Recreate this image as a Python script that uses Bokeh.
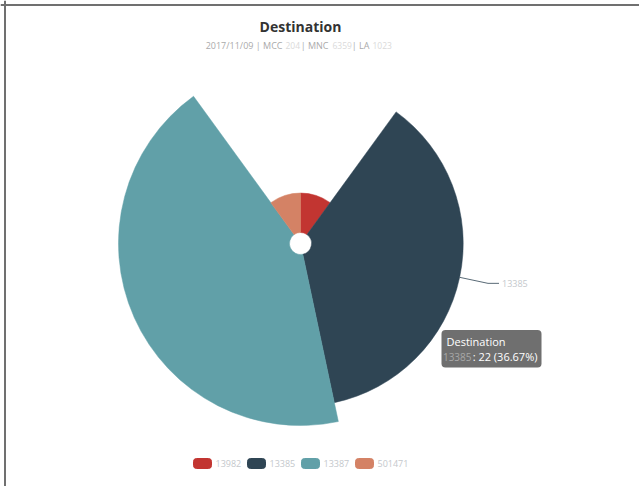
import math
from bokeh.plotting import figure
from bokeh.models import Range1d, Span, ColumnDataSource
from bokeh.core.properties import value
from bokeh.embed import file_html
from bokeh.resources import INLINE

# ---------------- data ----------------
title_text = "Destination"
subtitle_parts = ["2017/11/09 | MCC", "204", "| MNC", "6359", "| LA", "1023"]
subtitle_blurred = [False, True, False, True, False, True]
names = ["13982", "13385", "13387", "501471"]
counts = [6, 22, 26, 6]
colors = ["#c23531", "#2f4554", "#61a0a8", "#d48265"]
highlighted = "13385"
series_name = "Destination"

# ---------------- layout ----------------
W, H = 639, 486
CX, CY = 300, 243          # pie centre (pixels from top-left)
R_IN, R_OUT = 11, 182      # inner hole / largest rose radius
HOVER_GROW = 7
FONT = "Open Sans"


def Y(y):
    return H - y


p = figure(width=W, height=H, x_range=Range1d(0, W), y_range=Range1d(0, H),
           output_backend="svg", toolbar_location=None,
           x_axis_type=None, y_axis_type=None, min_border=0,
           outline_line_color=None, background_fill_color="white",
           border_fill_color="white")
p.grid.visible = False

# ---------------- rose pie ----------------
total = float(sum(counts))
vmax = float(max(counts))
starts, ends, radii = [], [], []
cum = 0.0
for n, c in zip(names, counts):
    a0 = cum / total * 2 * math.pi
    cum += c
    a1 = cum / total * 2 * math.pi
    starts.append(math.pi / 2 - a1)
    ends.append(math.pi / 2 - a0)
    r = R_IN + c / vmax * (R_OUT - R_IN)
    if n == highlighted:
        r += HOVER_GROW
    radii.append(r)

src = ColumnDataSource(dict(name=names, count=counts, color=colors,
                            start=starts, end=ends, r=radii))
p.annular_wedge(x=CX, y=Y(CY), inner_radius=R_IN, outer_radius="r",
                start_angle="start", end_angle="end", fill_color="color",
                line_color="color", line_width=0.5, source=src)

# label line for highlighted sector
hi = names.index(highlighted)
mid = (starts[hi] + ends[hi]) / 2
r1 = radii[hi]
r2 = r1 + 29
x1, y1 = CX + r1 * math.cos(mid), Y(CY) + r1 * math.sin(mid)
x2, y2 = CX + r2 * math.cos(mid), Y(CY) + r2 * math.sin(mid)
x3 = x2 + 11
p.line([x1, x2, x3], [y1, y2, y2], line_color=colors[hi], line_width=1, line_alpha=0.8)
p.text(x=[x3 + 3], y=[y2], text=[highlighted], text_font=value(FONT),
       text_font_size="9px", text_color="#c4c8cc", text_baseline="middle",
       text_align="left")

# ---------------- title ----------------
p.text(x=[CX], y=[Y(26)], text=[title_text], text_font=value(FONT),
       text_font_size="14px", text_font_style="bold", text_color="#333333",
       text_align="center", text_baseline="middle")
# gray parts anchored at their right end, blurred numbers at their left start
sub_x = [282, 285, 328, 332, 369, 372]
for sx, part, bl in zip(sub_x, subtitle_parts, subtitle_blurred):
    p.text(x=[sx], y=[Y(45)], text=[part], text_font=value(FONT),
           text_font_size="8.5px" if bl else "9px",
           text_color="#dadada" if bl else "#aaaaaa",
           text_align="left" if bl else "right", text_baseline="middle")

# ---------------- legend ----------------
lx = 193
sw_w, sw_h = 18, 10
for n, c in zip(names, colors):
    p.quad(left=[lx], right=[lx + sw_w], top=[Y(458)], bottom=[Y(458 + sw_h)],
           fill_color=c, line_color=c, border_radius=3)
    p.text(x=[lx + sw_w + 4], y=[Y(463)], text=[n], text_font=value(FONT),
           text_font_size="9px", text_color="#c4c8cc", text_align="left",
           text_baseline="middle")
    lx += sw_w + 4 + 5 * len(n) + 7

# ---------------- tooltip ----------------
p.quad(left=[441], right=[541], top=[Y(329.5)], bottom=[Y(367)],
       fill_color="#323232", fill_alpha=0.7, line_color=None, border_radius=4)
p.text(x=[446], y=[Y(341)], text=[series_name], text_font=value(FONT),
       text_font_size="11px", text_color="white", text_align="left",
       text_baseline="middle")
pct = counts[hi] / total * 100
p.text(x=[537], y=[Y(356)], text=[": %d (%.2f%%)" % (counts[hi], pct)],
       text_font=value(FONT), text_font_size="11px", text_color="white",
       text_align="right", text_baseline="middle")
p.text(x=[471], y=[Y(356)], text=[highlighted], text_font=value(FONT),
       text_font_size="10px", text_color="#a8a8a8", text_align="right",
       text_baseline="middle")

# ---------------- window frame ----------------
p.add_layout(Span(location=Y(4.5), dimension="width", line_color="#707070", line_width=2))
p.add_layout(Span(location=4.5, dimension="height", line_color="#707070", line_width=2))

open("out.html", "w").write(file_html(p, INLINE))
